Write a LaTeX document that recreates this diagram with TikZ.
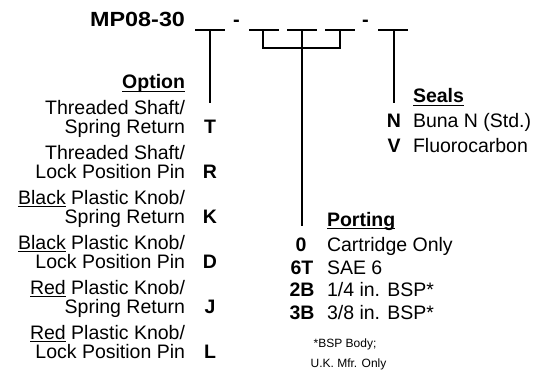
\documentclass[tikz,border=0pt]{standalone}
\usepackage{graphicx}
\usepackage{fontspec}
\setmainfont{Liberation Sans}
\newcommand\myul[1]{\setbox0\hbox{#1}\rlap{\rule[-2.7pt]{\wd0}{1.1pt}}\box0\relax}
\newcommand\myulb[1]{\setbox0\hbox{#1}\rlap{\rule[-3.4pt]{\wd0}{1.4pt}}\box0\relax}
\begin{document}
\begin{tikzpicture}[x=1pt,y=-1pt,
  every node/.style={inner sep=0pt, outer sep=0pt, font=\fontsize{19.5}{19}\selectfont},
  lbl/.style={anchor=base east},
  txt/.style={anchor=base west},
  code/.style={anchor=base, font=\fontsize{19.5}{19}\selectfont\bfseries},
  head/.style={font=\fontsize{19.5}{19}\selectfont\bfseries},
  note/.style={anchor=base, font=\fontsize{12}{12}\selectfont},
  ln/.style={line width=1.3pt}]
\useasboundingbox (0,0) rectangle (540,374);

% title and dashes
\node[anchor=base east, font=\fontsize{20.5}{20}\selectfont\bfseries] (title) at (185,26.7) {\scalebox{1.14}[1]{MP08-30}};
\node[code, font=\fontsize{20}{20}\selectfont\bfseries] (dash1) at (236.5,26.7) {-};
\node[code, font=\fontsize{20}{20}\selectfont\bfseries] (dash2) at (365.5,26.7) {-};

% blanks
\coordinate (b1w) at (195,30); \coordinate (b1e) at (225,30); \coordinate (b1) at (210,30);
\coordinate (b2w) at (249,30); \coordinate (b2e) at (279,30); \coordinate (b2) at (263,30);
\coordinate (b3w) at (287,30); \coordinate (b3e) at (317,30); \coordinate (b3) at (302,30);
\coordinate (b4w) at (325,30); \coordinate (b4e) at (355,30); \coordinate (b4) at (340,30);
\coordinate (b5w) at (378,30); \coordinate (b5e) at (408,30); \coordinate (b5) at (394,30);
\draw[ln] (b1w) -- (b1e);
\draw[ln] (b2w) -- (b2e);
\draw[ln] (b3w) -- (b3e);
\draw[ln] (b4w) -- (b4e);
\draw[ln] (b5w) -- (b5e);

% connectors
\coordinate (optend) at (210,103);
\coordinate (brk) at (302,48);
\coordinate (portend) at (302,226);
\coordinate (sealend) at (394,103);
\draw[ln] (b1) -- (optend);
\draw[ln] (b2) |- (brk) -| (b4);
\draw[ln] (b3) -- (portend);
\draw[ln] (b5) -- (sealend);

% Option
\node[head, lbl] (opthead) at (185,89) {\myulb{Option}};
\node[lbl] (o1a) at (185,115) {Threaded Shaft/};
\node[lbl] (o1b) at (185,134) {Spring Return};
\node[code] (cT) at (210,134) {T};
\node[lbl] (o2a) at (185,159.8) {Threaded Shaft/};
\node[lbl] (o2b) at (185,178.8) {Lock Position Pin};
\node[code] (cR) at (210,178.8) {R};
\node[lbl] (o3a) at (185,204.6) {\myul{Black} Plastic Knob/};
\node[lbl] (o3b) at (185,223.6) {Spring Return};
\node[code] (cK) at (210,223.6) {K};
\node[lbl] (o4a) at (185,249.4) {\myul{Black} Plastic Knob/};
\node[lbl] (o4b) at (185,268.4) {Lock Position Pin};
\node[code] (cD) at (210,268.4) {D};
\node[lbl] (o5a) at (185,294.2) {\myul{Red} Plastic Knob/};
\node[lbl] (o5b) at (185,313.2) {Spring Return};
\node[code] (cJ) at (210,313.2) {J};
\node[lbl] (o6a) at (185,339) {\myul{Red} Plastic Knob/};
\node[lbl] (o6b) at (185,358) {Lock Position Pin};
\node[code] (cL) at (210,358) {L};

% Porting
\node[head, txt] (porthead) at (327,226) {\myulb{Porting}};
\node[code] (p0) at (301,251.8) {0};
\node[txt] (p0t) at (327,251.8) {Cartridge Only};
\node[code] (p6) at (302,274.2) {6T};
\node[txt] (p6t) at (327,274.2) {SAE 6};
\node[code] (p2) at (302,296.6) {2B};
\node[txt] (p2t) at (327,296.6) {1/4 in. BSP*};
\node[code] (p3) at (302,319) {3B};
\node[txt] (p3t) at (327,319) {3/8 in. BSP*};
\node[note] (n1) at (345,347.5) {*BSP Body;};
\node[note] (n2) at (348.5,367) {U.K. Mfr. Only};

% Seals
\node[head, txt] (sealhead) at (413,103) {\myulb{Seals}};
\node[code] (sN) at (394,127.8) {N};
\node[txt] (sNt) at (413,127.8) {Buna N (Std.)};
\node[code] (sV) at (394,152.5) {V};
\node[txt] (sVt) at (413,152.5) {Fluorocarbon};
\end{tikzpicture}
\end{document}
